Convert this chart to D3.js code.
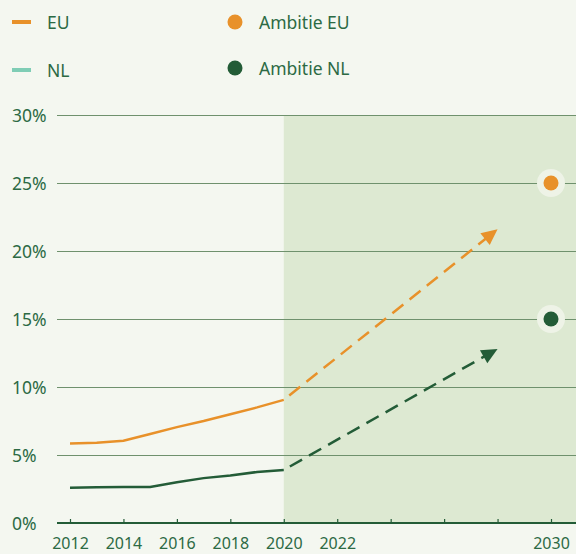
<!DOCTYPE html>
<html>
<head>
<meta charset="utf-8">
<script src="https://cdn.jsdelivr.net/npm/d3@7"></script>
<style>
body { margin: 0; background: #f4f7f0; }
svg { display: block; font-family: "Noto Sans", sans-serif; }
</style>
</head>
<body>
<script>
// data
var years = [2012, 2013, 2014, 2015, 2016, 2017, 2018, 2019, 2020];
var euValues = [5.85, 5.9, 6.05, 6.55, 7.05, 7.5, 8.0, 8.5, 9.05];
var nlValues = [2.6, 2.62, 2.65, 2.65, 3.0, 3.3, 3.5, 3.75, 3.9];
var projYears = [2020, 2028];
var euProj = [9.05, 21.6];
var nlProj = [3.9, 12.8];
var ambitionYear = 2030;
var ambitionEU = 25;
var ambitionNL = 15;
var yTicks = [0, 5, 10, 15, 20, 25, 30];
var xTicks = [2012, 2014, 2016, 2018, 2020, 2022, 2024, 2026, 2028, 2030];
var xLabels = [2012, 2014, 2016, 2018, 2020, 2022, 2030];

var orange = "#e8912a";
var darkGreen = "#235c37";
var textColor = "#2c6a44";

var width = 576, height = 554;
var svg = d3.select("body").append("svg")
    .attr("width", width)
    .attr("height", height);

var x = d3.scaleLinear().domain([2012, 2030]).range([70, 551]);
var y = d3.scaleLinear().domain([0, 30]).range([523, 115]);

// shaded projection zone
svg.append("rect")
    .attr("x", x(2020))
    .attr("y", y(30))
    .attr("width", width - x(2020))
    .attr("height", y(0) - y(30))
    .attr("fill", "#dde9d2");

// grid lines
svg.selectAll(".grid").data(yTicks.filter(function (d) { return d > 0; })).enter()
    .append("line")
    .attr("x1", 57)
    .attr("x2", width)
    .attr("y1", function (d) { return Math.round(y(d)) + 0.5; })
    .attr("y2", function (d) { return Math.round(y(d)) + 0.5; })
    .attr("stroke", "#6f916d")
    .attr("stroke-width", 1);

// y labels
svg.selectAll(".ylab").data(yTicks).enter()
    .append("text")
    .attr("x", 12)
    .attr("y", function (d) { return y(d) + 6.5; })
    .attr("fill", textColor)
    .attr("font-size", 17.5)
    .text(function (d) { return d + "%"; });

// x axis
var xAxis = d3.axisBottom(x)
    .tickValues(xTicks)
    .tickSize(-4)
    .tickFormat(function (d) { return xLabels.indexOf(d) >= 0 ? d : ""; });
var gx = svg.append("g").attr("transform", "translate(0," + y(0) + ")").call(xAxis);
gx.select(".domain").remove();
gx.selectAll(".tick line").attr("stroke", darkGreen).attr("stroke-width", 1.2);
gx.selectAll(".tick text")
    .attr("y", 26)
    .attr("dy", 0)
    .attr("fill", textColor)
    .attr("font-size", 16)
    .attr("font-family", "Noto Sans, sans-serif");
svg.append("line")
    .attr("x1", 57).attr("x2", width)
    .attr("y1", y(0)).attr("y2", y(0))
    .attr("stroke", darkGreen)
    .attr("stroke-width", 2);

// lines
var line = d3.line()
    .x(function (d) { return x(d[0]); })
    .y(function (d) { return y(d[1]); });

svg.append("path")
    .attr("d", line(d3.zip(years, euValues)))
    .attr("fill", "none").attr("stroke", orange).attr("stroke-width", 2.5);
svg.append("path")
    .attr("d", line(d3.zip(years, nlValues)))
    .attr("fill", "none").attr("stroke", darkGreen).attr("stroke-width", 2.5);

// dashed projections with arrow heads
function addProjection(vals, color) {
    var x0 = x(projYears[0]), y0 = y(vals[0]);
    var x1 = x(projYears[1]), y1 = y(vals[1]);
    var ang = Math.atan2(y1 - y0, x1 - x0);
    var headLen = 16;
    // stop the dashed line where the head begins
    var xe = x1 - Math.cos(ang) * headLen * 0.7;
    var ye = y1 - Math.sin(ang) * headLen * 0.7;
    svg.append("path")
        .attr("d", "M" + x0 + "," + y0 + "L" + xe + "," + ye)
        .attr("fill", "none")
        .attr("stroke", color)
        .attr("stroke-width", 2.5)
        .attr("stroke-dasharray", "14,8")
        .attr("stroke-dashoffset", 22 - 7);
    var hw = 7.5;
    var bx = x1 - Math.cos(ang) * headLen, by = y1 - Math.sin(ang) * headLen;
    var pts = [
        [x1, y1],
        [bx + Math.sin(ang) * hw, by - Math.cos(ang) * hw],
        [bx - Math.sin(ang) * hw, by + Math.cos(ang) * hw]
    ];
    svg.append("polygon")
        .attr("points", pts.map(function (p) { return p.join(","); }).join(" "))
        .attr("fill", color);
}
addProjection(euProj, orange);
addProjection(nlProj, darkGreen);

// ambition dots
[[ambitionEU, orange], [ambitionNL, darkGreen]].forEach(function (a) {
    svg.append("circle")
        .attr("cx", x(ambitionYear)).attr("cy", y(a[0]))
        .attr("r", 14).attr("fill", "#eef3e7");
    svg.append("circle")
        .attr("cx", x(ambitionYear)).attr("cy", y(a[0]))
        .attr("r", 7.5).attr("fill", a[1]);
});

// legend
var legend = svg.append("g");
legend.append("line").attr("x1", 12).attr("x2", 31).attr("y1", 22).attr("y2", 22)
    .attr("stroke", orange).attr("stroke-width", 4);
legend.append("line").attr("x1", 12).attr("x2", 31).attr("y1", 70).attr("y2", 70)
    .attr("stroke", "#7fcdb5").attr("stroke-width", 4);
legend.append("text").attr("x", 47).attr("y", 28.5).attr("fill", textColor)
    .attr("font-size", 17.5).text("EU");
legend.append("text").attr("x", 47).attr("y", 76.5).attr("fill", textColor)
    .attr("font-size", 17.5).text("NL");
legend.append("circle").attr("cx", 235).attr("cy", 22).attr("r", 7.5).attr("fill", orange);
legend.append("circle").attr("cx", 235).attr("cy", 68).attr("r", 7.5).attr("fill", darkGreen);
legend.append("text").attr("x", 259).attr("y", 28.5).attr("fill", textColor)
    .attr("font-size", 17.5).text("Ambitie EU");
legend.append("text").attr("x", 259).attr("y", 74.5).attr("fill", textColor)
    .attr("font-size", 17.5).text("Ambitie NL");
</script>
</body>
</html>
